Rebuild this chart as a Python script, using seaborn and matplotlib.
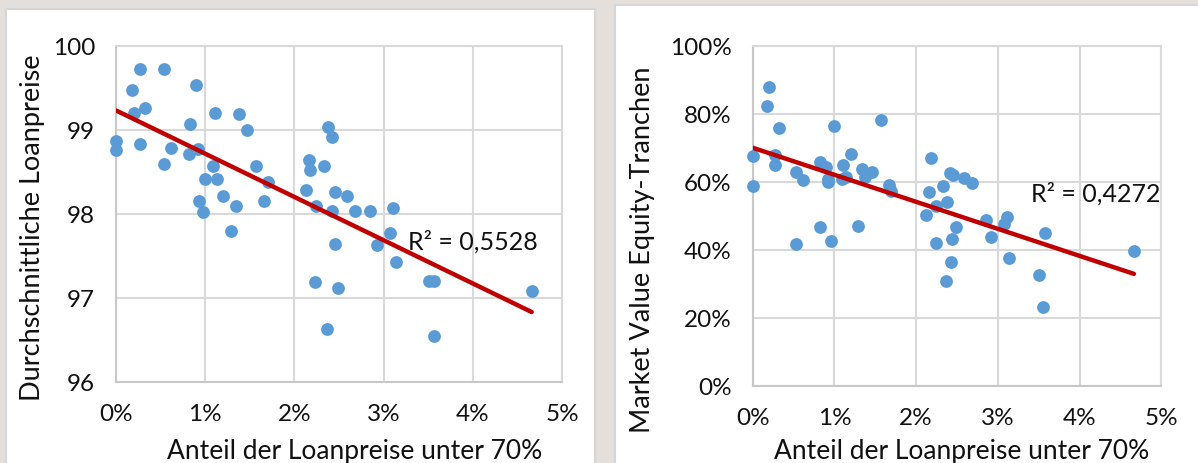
import numpy as np
import matplotlib
matplotlib.use("Agg")
import matplotlib.pyplot as plt
from matplotlib.patches import Rectangle
from matplotlib.ticker import FuncFormatter
import seaborn as sns

# Left panel: average loan price vs share of loan prices below 70%
share_left = [0.0, 0.0, 0.184, 0.27, 0.536, 0.206, 0.33, 0.27, 0.617, 0.536,
              0.90, 0.83, 0.92, 0.823, 1.11, 1.09, 1.0, 1.13, 1.20, 0.926,
              0.97, 1.34, 1.29, 1.376, 1.467, 1.565, 1.70, 1.664, 2.16, 2.18,
              2.337, 2.38, 2.42, 2.127, 2.243, 2.427, 2.453, 2.586, 2.684, 2.85,
              3.105, 3.07, 2.925, 2.45, 3.14, 2.234, 2.49, 2.363, 3.51, 3.56,
              3.568, 4.66]
loan_price = [98.87, 98.76, 99.48, 99.73, 99.73, 99.20, 99.26, 98.83, 98.79, 98.59,
              99.54, 99.07, 98.77, 98.71, 99.20, 98.57, 98.42, 98.42, 98.22, 98.15,
              98.02, 98.09, 97.80, 99.19, 99.00, 98.57, 98.38, 98.15, 98.64, 98.52,
              98.57, 99.04, 98.92, 98.29, 98.09, 98.03, 98.26, 98.21, 98.04, 98.04,
              98.07, 97.77, 97.63, 97.64, 97.43, 97.19, 97.12, 96.63, 97.20, 97.20,
              96.55, 97.08]

# Right panel: market value of equity tranches vs same share
share_right = [0.0, 0.0, 0.20, 0.177, 0.326, 0.27, 0.27, 0.53, 0.616, 0.536,
               0.83, 0.90, 0.92, 0.92, 0.83, 0.965, 0.998, 1.105, 1.20, 1.09,
               1.14, 1.34, 1.38, 1.465, 1.29, 1.567, 1.665, 1.69, 2.18, 2.16,
               2.24, 2.12, 2.33, 2.38, 2.416, 2.45, 2.59, 2.687, 2.486, 2.444,
               2.24, 2.425, 2.365, 2.854, 2.92, 3.07, 3.11, 3.14, 3.573, 3.507,
               3.554, 4.664]
equity_mv = [67.5, 58.8, 88.0, 82.2, 75.7, 68.0, 64.9, 63.0, 60.6, 41.8,
             65.7, 64.2, 60.8, 59.8, 46.6, 42.6, 76.5, 64.9, 68.1, 60.8,
             61.5, 63.7, 61.5, 62.9, 47.0, 78.1, 59.1, 57.2, 67.1, 57.1,
             52.9, 50.2, 58.6, 54.1, 62.5, 62.0, 61.1, 59.5, 46.7, 43.1,
             42.1, 36.3, 30.7, 48.8, 43.6, 47.5, 49.5, 37.7, 45.0, 32.5,
             23.1, 39.7]

x_ticks = [0, 1, 2, 3, 4, 5]
left_yticks = [96, 97, 98, 99, 100]
right_yticks = [0, 20, 40, 60, 80, 100]
r2_left = "R² = 0,5528"
r2_right = "R² = 0,4272"

sns.set_theme(style="white")
plt.rcParams["font.family"] = ["Lato", "DejaVu Sans"]

bg = "#e4dfdb"
grid_col = "#d9d9d9"
dot_col = "#5b9bd5"
line_col = "#c00000"
txt = "#111111"

fig = plt.figure(figsize=(11.98, 4.64), dpi=100, facecolor=bg)
W, H = 1198, 464

# white panels behind the charts
fig.patches.append(Rectangle((6 / W, -0.02), 589 / W, (H - 10) / H + 0.02,
                             transform=fig.transFigure, facecolor="white",
                             edgecolor="#d6d6d6", lw=1.5, zorder=-10))
fig.patches.append(Rectangle((615 / W, -0.02), 600 / W, (H - 6) / H + 0.02,
                             transform=fig.transFigure, facecolor="white",
                             edgecolor="#d6d6d6", lw=1.5, zorder=-10))

ax1 = fig.add_axes([116 / W, (H - 383) / H, 446 / W, 336 / H])
ax2 = fig.add_axes([752.6 / W, (H - 386.7) / H, 408.8 / W, 340 / H])

pct = FuncFormatter(lambda v, p: f"{v:.0f}%")


def draw(ax, x, y, yticks, ylim, ylabel, r2, r2_xy, xlab_pos, ylab_pos, yfmt=None):
    sns.regplot(x=x, y=y, ax=ax, ci=None, truncate=True,
                scatter_kws=dict(s=85, color=dot_col, alpha=1, linewidths=0,
                                 zorder=3, clip_on=False),
                line_kws=dict(color=line_col, lw=3.2, zorder=4))
    ax.set_xlim(0, 5)
    ax.set_ylim(*ylim)
    ax.set_xticks(x_ticks)
    ax.set_yticks(yticks)
    ax.xaxis.set_major_formatter(pct)
    if yfmt is not None:
        ax.yaxis.set_major_formatter(yfmt)
    ax.grid(True, color=grid_col, lw=1.5)
    ax.set_axisbelow(True)
    for s in ax.spines.values():
        s.set_color(grid_col)
        s.set_linewidth(1.5)
    ax.spines["left"].set_color("#c8c8c8")
    ax.spines["bottom"].set_color("#c8c8c8")
    ax.set_facecolor("white")
    ax.tick_params(length=0, labelsize=17.5, pad=15, colors=txt)
    ax.set_xlabel("Anteil der Loanpreise unter 70%", fontsize=19, color=txt)
    ax.set_ylabel(ylabel, fontsize=19.5, color=txt)
    ax.xaxis.label.set_va("center")
    ax.yaxis.label.set_va("center")
    ax.xaxis.set_label_coords(*xlab_pos)
    ax.yaxis.set_label_coords(*ylab_pos)
    ax.text(r2_xy[0], r2_xy[1], r2, fontsize=18, color=txt, va="center", ha="left")


draw(ax1, share_left, loan_price, left_yticks, (96, 100),
     "Durchschnittliche Loanpreise", r2_left, (3.27, 97.68),
     (0.536, -0.205), (-0.187, 0.461))
draw(ax2, share_right, equity_mv, right_yticks, (0, 100),
     "Market Value Equity-Tranchen", r2_right, (3.40, 56.6),
     (0.512, -0.192), (-0.269, 0.402), yfmt=pct)

fig.savefig("out.png", dpi=100, facecolor=bg)
